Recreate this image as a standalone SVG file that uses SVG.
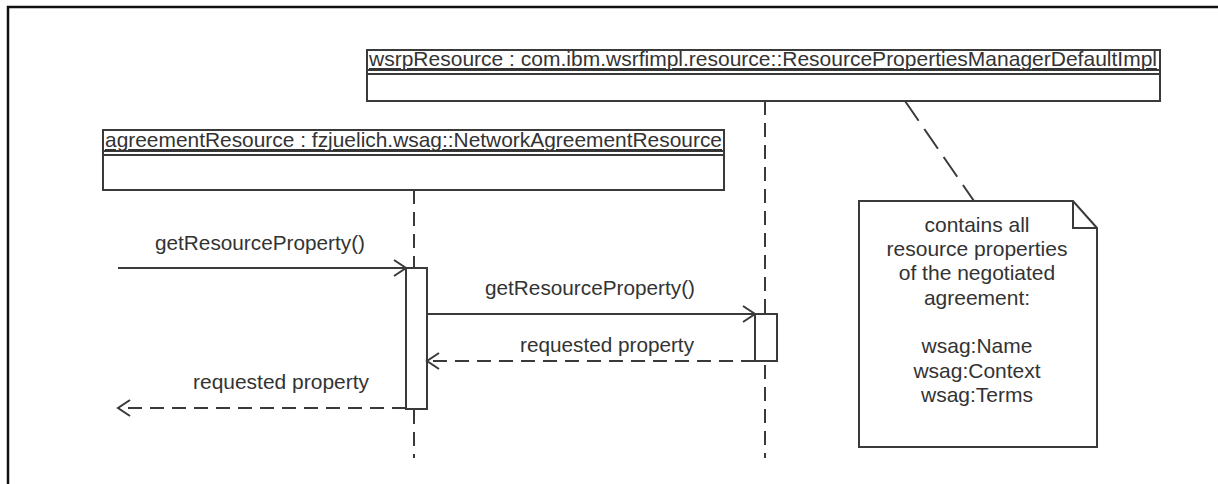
<svg xmlns="http://www.w3.org/2000/svg" width="1218" height="484" viewBox="0 0 1218 484">
  <style>
    .frame { fill: none; stroke: #111; stroke-width: 2.5; }
    .box { fill: #fff; stroke: #3a3a3a; stroke-width: 2; }
    .sep { stroke: #3a3a3a; stroke-width: 2; fill: none; }
    .life { stroke: #3a3a3a; stroke-width: 2; stroke-dasharray: 14 8; fill: none; }
    .call { stroke: #3a3a3a; stroke-width: 2; fill: none; }
    .ret { stroke: #3a3a3a; stroke-width: 2; stroke-dasharray: 14 8; fill: none; }
    .act { fill: #fff; stroke: #3a3a3a; stroke-width: 2; }
    .anchor { stroke: #3a3a3a; stroke-width: 2; stroke-dasharray: 24 10; fill: none; }
    text { font-family: "Liberation Sans", Arial, sans-serif; font-size: 21px; fill: #333; }
    .title { text-decoration: underline; }
    .mid { text-anchor: middle; }
    .arrow { fill: none; stroke: #3a3a3a; stroke-width: 2; }
  </style>
  <defs>
    <marker id="open" markerWidth="16" markerHeight="20" refX="14" refY="10" orient="auto" markerUnits="userSpaceOnUse">
      <path class="arrow" d="M2,2 L14,10 L2,18"/>
    </marker>
  </defs>

  <rect width="1218" height="484" fill="#fff"/>
  <!-- outer frame (open to the right and bottom) -->
  <path class="frame" d="M8,484 L8,7 L1218,7"/>

  <!-- lifelines -->
  <g id="lifelines">
    <line class="life" x1="414" y1="190" x2="414" y2="458"/>
    <line class="life" x1="765" y1="101" x2="765" y2="458"/>
  </g>

  <!-- object: wsrpResource -->
  <g id="wsrpResource">
    <rect class="box" x="367" y="50" width="793" height="51"/>
    <line class="sep" x1="367" y1="70" x2="1160" y2="70"/>
    <line class="sep" x1="367" y1="74" x2="1160" y2="74"/>
    <text class="title" x="369" y="66" textLength="788" lengthAdjust="spacingAndGlyphs">wsrpResource : com.ibm.wsrfimpl.resource::ResourcePropertiesManagerDefaultImpl</text>
  </g>

  <!-- object: agreementResource -->
  <g id="agreementResource">
    <rect class="box" x="103" y="130" width="621" height="60"/>
    <line class="sep" x1="103" y1="151" x2="724" y2="151"/>
    <line class="sep" x1="103" y1="155" x2="724" y2="155"/>
    <text class="title" x="105" y="147" textLength="617" lengthAdjust="spacingAndGlyphs">agreementResource : fzjuelich.wsag::NetworkAgreementResource</text>
  </g>

  <!-- activations -->
  <g id="activation-agreement">
    <rect class="act" x="406" y="268" width="21" height="141"/>
  </g>
  <g id="activation-wsrp">
    <rect class="act" x="755" y="314" width="22" height="47"/>
  </g>

  <!-- messages -->
  <g id="connectors">
    <line class="call" x1="118" y1="268" x2="406" y2="268" marker-end="url(#open)"/>
    <text x="155" y="250" textLength="210" lengthAdjust="spacingAndGlyphs">getResourceProperty()</text>

    <line class="call" x1="427" y1="314" x2="755" y2="314" marker-end="url(#open)"/>
    <text x="485" y="295" textLength="210" lengthAdjust="spacingAndGlyphs">getResourceProperty()</text>

    <line class="ret" x1="755" y1="361" x2="427" y2="361" marker-end="url(#open)"/>
    <text x="520" y="352" textLength="174" lengthAdjust="spacingAndGlyphs">requested property</text>

    <line class="ret" x1="406" y1="408" x2="118" y2="408" marker-end="url(#open)"/>
    <text x="193" y="389" textLength="176" lengthAdjust="spacingAndGlyphs">requested property</text>

    <line class="anchor" x1="905" y1="101" x2="974" y2="201"/>
  </g>

  <!-- note -->
  <g id="note">
    <path class="box" d="M859,201 L1073,201 L1097,228 L1097,447 L859,447 Z"/>
    <path class="sep" d="M1073,201 L1073,228 L1097,228"/>
    <text class="mid" x="977" y="232">contains all</text>
    <text class="mid" x="977" y="256">resource properties</text>
    <text class="mid" x="977" y="280">of the negotiated</text>
    <text class="mid" x="977" y="305">agreement:</text>
    <text class="mid" x="977" y="353">wsag:Name</text>
    <text class="mid" x="977" y="378">wsag:Context</text>
    <text class="mid" x="977" y="402">wsag:Terms</text>
  </g>
</svg>
